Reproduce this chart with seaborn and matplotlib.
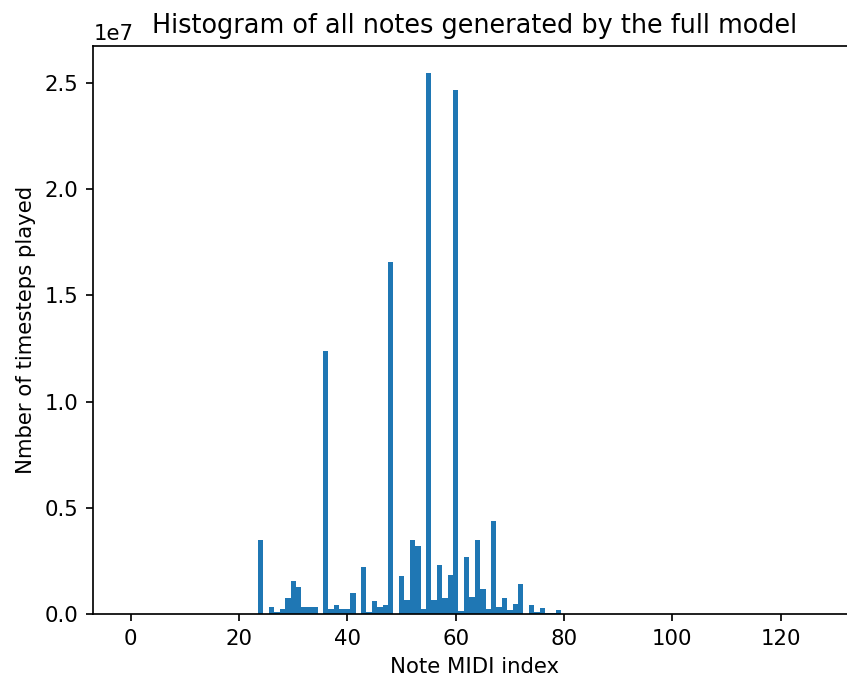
import numpy as np
import matplotlib
matplotlib.use("Agg")
import matplotlib.pyplot as plt
import seaborn as sns

# MIDI notes that were played, and timesteps (in millions) for each
note_index = list(range(24, 80))
timesteps_millions = [
    3.50, 0.00, 0.31, 0.11, 0.25, 0.75, 1.55, 1.27, 0.33, 0.33,   # 24-33
    0.33, 0.00, 12.38, 0.25, 0.41, 0.25, 0.25, 0.97, 0.00, 2.19,  # 34-43
    0.11, 0.61, 0.34, 0.42, 16.59, 0.00, 1.77, 0.66, 3.50, 3.21,  # 44-53
    0.25, 25.47, 0.67, 2.33, 0.75, 1.83, 24.66, 0.16, 2.69, 0.78, # 54-63
    3.50, 1.20, 0.25, 4.38, 0.33, 0.77, 0.17, 0.47, 1.39, 0.00,   # 64-73
    0.40, 0.10, 0.26, 0.07, 0.03, 0.17,                           # 74-79
]
x_ticks = [0, 20, 40, 60, 80, 100, 120]

counts = [v * 1e6 for v in timesteps_millions]

DPI = 153
fig = plt.figure(figsize=(847 / DPI, 681 / DPI), dpi=DPI)
ax = fig.add_axes([0.1102, 0.0984, 0.9005, 0.8341])

sns.histplot(x=note_index, weights=counts, discrete=True, binrange=(0, 127),
             color="#1f77b4", alpha=1, linewidth=0, ax=ax)

ax.set_xlim(-6.9, 133.9)
ax.set_xticks(x_ticks)
ax.spines["right"].set_visible(False)
ax.set_title("Histogram of all notes generated by the full model")
ax.set_xlabel("Note MIDI index")
ax.set_ylabel("Nmber of timesteps played")

fig.savefig("out.png", dpi=DPI)
